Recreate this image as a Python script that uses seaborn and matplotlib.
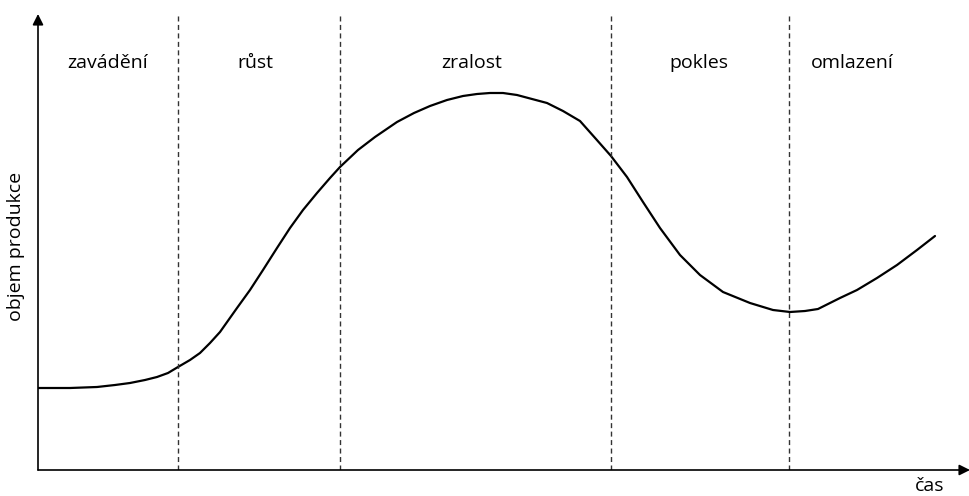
import pandas as pd
import seaborn as sns
import matplotlib.pyplot as plt

# product life cycle curve (x = time, y = volume)
time_pts = [0, 32, 59, 77, 92, 107, 119, 130, 140, 152,
            162, 172, 182, 199, 212, 225, 239, 252, 265, 279,
            292, 302, 320, 337, 359, 376, 392, 409, 425, 439,
            452, 465, 479, 494, 509, 525, 542, 558, 573, 589,
            605, 622, 642, 662, 685, 712, 735, 752, 767, 780,
            802, 819, 839, 859, 879, 897]
volume_pts = [82, 82, 83, 85, 87, 90, 93, 97, 103, 110,
              117, 127, 138, 162, 180, 200, 222, 242, 260, 277,
              292, 303, 320, 333, 348, 357, 364, 370, 374, 376,
              377, 377, 375, 371, 367, 359, 349, 331, 314, 293,
              268, 242, 215, 195, 178, 167, 160, 158, 159, 161,
              172, 180, 192, 205, 220, 234]

phase_names = ['zavádění', 'růst', 'zralost', 'pokles', 'omlazení']
phase_bounds = [140, 302, 573, 751]
label_x = [70, 217, 434, 661, 814]

sns.set_theme(style='white')
plt.rcParams['font.family'] = ['Open Sans', 'DejaVu Sans']

df = pd.DataFrame({'time': time_pts, 'volume': volume_pts})

fig = plt.figure(figsize=(9.7, 4.96), dpi=100)
ax = fig.add_axes([38 / 970, 26 / 496, 932 / 970, 456 / 496])

sns.lineplot(data=df, x='time', y='volume', sort=False, color='black', lw=1.6,
             solid_joinstyle='round', ax=ax)

for b in phase_bounds:
    ax.axvline(b, color='#333333', lw=1.0, dashes=(3.6, 2.5))

for name, lx in zip(phase_names, label_x):
    ax.text(lx, 407, name, ha='center', va='center', fontsize=14, color='black')

ax.set_xlim(0, 932)
ax.set_ylim(0, 456)
ax.set_xticks([])
ax.set_yticks([])
ax.set_xlabel('')
ax.set_ylabel('')
for s in ax.spines.values():
    s.set_visible(False)

# axes drawn as arrows
arrow = dict(arrowstyle='-|>', color='black', lw=1.2, mutation_scale=16, shrinkA=0, shrinkB=0)
ax.annotate('', xy=(1, 0), xytext=(0, 0), xycoords='axes fraction', arrowprops=arrow)
ax.annotate('', xy=(0, 1), xytext=(0, 0), xycoords='axes fraction', arrowprops=arrow)

ax.text(892, -16, 'čas', ha='center', va='center', fontsize=14, color='black', clip_on=False)
ax.text(-22, 224, 'objem produkce', ha='center', va='center', rotation=90,
        fontsize=14, color='black', clip_on=False)

fig.savefig('out.png', dpi=100)
